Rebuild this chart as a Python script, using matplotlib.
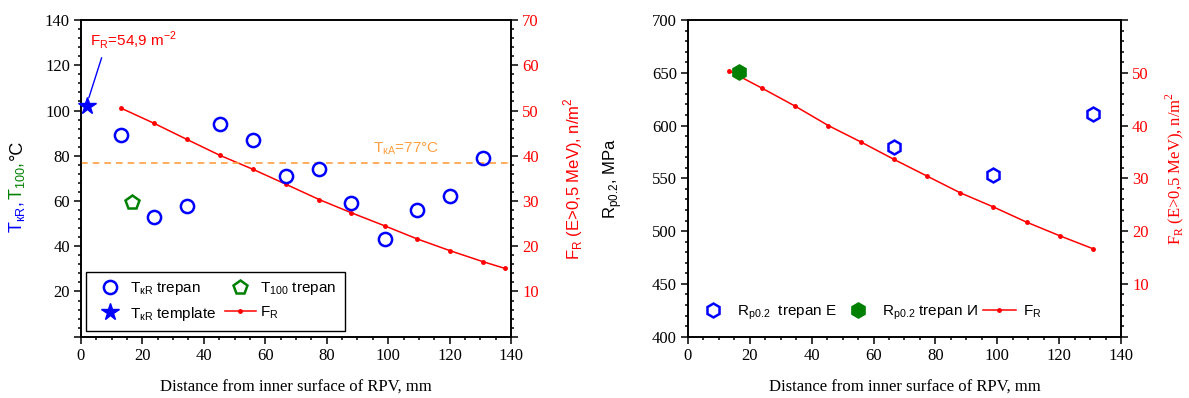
import matplotlib
matplotlib.use("Agg")
import matplotlib.pyplot as plt
from matplotlib.ticker import MultipleLocator, FuncFormatter

plt.rcParams["font.family"] = ["Liberation Serif", "DejaVu Serif"]
plt.rcParams["mathtext.fontset"] = "custom"
plt.rcParams["mathtext.rm"] = "Liberation Sans"

SANS = ["Liberation Sans", "DejaVu Sans"]
ORANGE = "#ffa040"

# --- left panel data ---
tkr_x = [13, 23.7, 34.6, 45.3, 56.1, 66.7, 77.6, 88, 99, 109.5, 120.2, 131]
tkr_y = [89, 53, 58, 94, 87, 71, 74, 59, 43, 56, 62, 79]
t100_x = [16.6]
t100_y = [59.5]
tmpl_x = [2]
tmpl_y = [102]
fr1_x = [13.1, 23.7, 34.5, 45.2, 56, 66.7, 77.6, 88, 98.9, 109.5, 120.2, 130.8, 138]
fr1_y = [50.5, 47.2, 43.6, 40.1, 37.0, 33.7, 30.3, 27.4, 24.5, 21.6, 19.0, 16.6, 15.1]
tka = 77

# --- right panel data ---
rpE_x = [66.6, 98.7, 130.8]
rpE_y = [580, 553, 611]
rpI_x = [16.6]
rpI_y = [651]
fr2_x = [13.2, 23.9, 34.6, 45.4, 55.9, 66.6, 77.4, 87.9, 98.7, 109.5, 120.3, 130.8]
fr2_y = [50.4, 47.1, 43.7, 40.0, 36.9, 33.6, 30.4, 27.3, 24.6, 21.7, 19.1, 16.7]

fig = plt.figure(figsize=(11.89, 3.98), dpi=100)


def hide_fmt(hidden):
    return FuncFormatter(lambda v, p: "" if any(abs(v - h) < 1e-6 for h in hidden) else f"{v:g}")


def style_axis(ax, ymaj, ymin):
    ax.set_xlim(0, 140)
    ax.xaxis.set_major_locator(MultipleLocator(20))
    ax.xaxis.set_minor_locator(MultipleLocator(5))
    ax.yaxis.set_major_locator(MultipleLocator(ymaj))
    ax.yaxis.set_minor_locator(MultipleLocator(ymin))
    ax.tick_params(which="both", direction="out", width=1.1, labelsize=12)
    ax.tick_params(which="major", length=5, pad=3)
    ax.tick_params(which="minor", length=2.5)
    for s in ax.spines.values():
        s.set_linewidth(1.2)
    ax.set_xlabel("Distance from inner surface of RPV, mm", fontsize=12)
    ax.xaxis.set_label_coords(0.5, -0.135)
    ax.xaxis.label.set_va("top")


def style_twin(ax2, ymaj, ymin):
    ax2.yaxis.set_major_locator(MultipleLocator(ymaj))
    ax2.yaxis.set_minor_locator(MultipleLocator(ymin))
    ax2.tick_params(which="both", direction="out", width=1.1, labelsize=12,
                    labelcolor="red")
    ax2.tick_params(which="major", length=5, pad=3)
    ax2.tick_params(which="minor", length=2.5)
    for s in ax2.spines.values():
        s.set_linewidth(1.2)


# ================= left panel =================
ax = fig.add_axes([0.0681, 0.1540, 0.3617, 0.7957])
ax2 = ax.twinx()
style_axis(ax, 20, 4)
ax.set_ylim(0, 140)
ax2.set_ylim(0, 70)
style_twin(ax2, 10, 2)
ax.yaxis.set_major_formatter(hide_fmt([0]))
ax2.yaxis.set_major_formatter(hide_fmt([0]))

ax.axhline(tka, color=ORANGE, lw=1.2, ls=(0, (4, 3)), zorder=1)
ax.text(95, 81.5, r"T$_\mathregular{кA}$=77°C", color=ORANGE, fontsize=11,
        family=SANS, va="baseline")

h_fr1, = ax2.plot(fr1_x, fr1_y, color="red", lw=1.1, marker="o", ms=2.5,
                  label=r"F$_\mathregular{R}$")
h_tkr, = ax.plot(tkr_x, tkr_y, ls="none", marker="o", ms=9.5, mfc="none",
                 mec="blue", mew=1.8, label=r"T$_\mathregular{кR}$ trepan")
h_t100, = ax.plot(t100_x, t100_y, ls="none", marker="p", ms=10.5, mfc="none",
                  mec="green", mew=1.8, label=r"T$_\mathregular{100}$ trepan")
h_tmp, = ax.plot(tmpl_x, tmpl_y, ls="none", marker="*", ms=13, color="blue",
                 label=r"T$_\mathregular{кR}$ template", clip_on=False, zorder=5)
ax.set_zorder(ax2.get_zorder() + 1)
ax.patch.set_visible(False)

ax.annotate("", xy=(2.3, 104.5), xytext=(7.0, 124.5),
            arrowprops=dict(arrowstyle="-", color="blue", lw=1))
ax.text(2.9, 128.9, r"F$_\mathregular{R}$=54,9 m$^\mathregular{-2}$", color="red",
        fontsize=11, family=SANS, va="baseline")

leg = ax.legend(handles=[h_tkr, h_tmp, h_t100, h_fr1], ncol=2, loc="lower left",
                bbox_to_anchor=(0.0116, 0.018), borderaxespad=0,
                fancybox=False, framealpha=1, edgecolor="black",
                prop={"family": SANS, "size": 11}, handlelength=2.0,
                columnspacing=0.6, borderpad=0.55, labelspacing=0.5,
                handletextpad=0.3)
leg.get_frame().set_linewidth(1.0)

ax2.set_ylabel(r"F$_\mathregular{R}$ (E>0,5 MeV), n/m$^\mathregular{2}$",
               color="red", fontsize=12, family=SANS)
ax2.yaxis.set_label_coords(1.118, 0.5)

# multicoloured left label
parts = [(r"T$_\mathregular{кR}$, ", "blue"),
         (r"T$_\mathregular{100}$, ", "green"),
         ("°C", "black")]
renderer = fig.canvas.get_renderer()
ypix = (1 - 233 / 398) * fig.bbox.height
xpix = 22
for txt, col in parts:
    t = fig.text(xpix / fig.bbox.width, ypix / fig.bbox.height, txt, color=col,
                 fontsize=13, family=SANS, rotation=90, rotation_mode="anchor",
                 ha="left", va="baseline")
    bb = t.get_window_extent(renderer)
    ypix += bb.height

# ================= right panel =================
bx = fig.add_axes([0.5786, 0.1540, 0.3642, 0.7957])
bx2 = bx.twinx()
style_axis(bx, 50, 10)
bx.set_ylim(400, 700)
bx2.set_ylim(0, 60)
style_twin(bx2, 10, 2)
bx2.yaxis.set_major_formatter(hide_fmt([0, 60]))

h_fr2, = bx2.plot(fr2_x, fr2_y, color="red", lw=1.1, marker="o", ms=2.5,
                  label=r"F$_\mathregular{R}$")
h_rpE, = bx.plot(rpE_x, rpE_y, ls="none", marker="h", ms=10, mfc="none",
                 mec="blue", mew=1.8, label=r"R$_\mathregular{p0.2}$  trepan E")
h_rpI, = bx.plot(rpI_x, rpI_y, ls="none", marker="h", ms=11, color="green",
                 label=r"R$_\mathregular{p0.2}$ trepan И")
bx.set_zorder(bx2.get_zorder() + 1)
bx.patch.set_visible(False)

bx.legend(handles=[h_rpE, h_rpI, h_fr2], ncol=3, loc="center left",
          bbox_to_anchor=(0.006, 0.075), borderaxespad=0, frameon=False,
          prop={"family": SANS, "size": 11}, handlelength=2.2, borderpad=0.4,
          columnspacing=0.3, handletextpad=0.45)

bx.set_ylabel(r"R$_\mathregular{p0.2}$, MPa", fontsize=12, family=SANS)
bx.yaxis.set_label_coords(-0.148, 0.5)
bx2.set_ylabel(r"F$_\mathregular{R}$ (E>0,5 MeV), n/m$^\mathregular{2}$",
               color="red", fontsize=12)
bx2.yaxis.set_label_coords(1.097, 0.53)

fig.savefig("out.png", dpi=100)
